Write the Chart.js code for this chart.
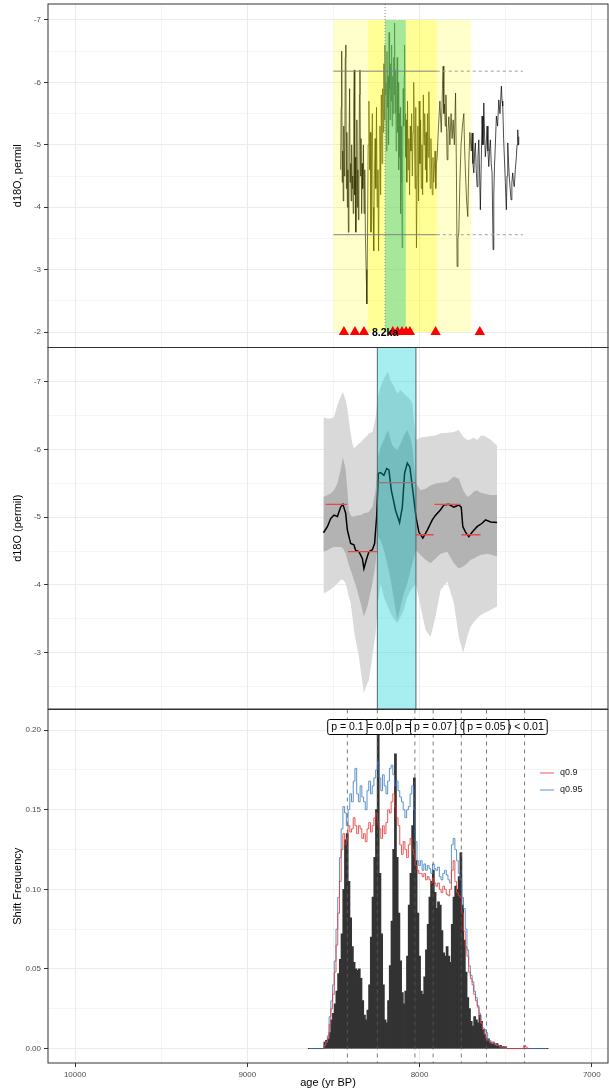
<!DOCTYPE html>
<html>
<head>
<meta charset="utf-8">
<script src="https://cdn.jsdelivr.net/npm/chart.js@4.4.1/dist/chart.umd.min.js"></script>
<style>
  body { margin: 0; background: #fff; }
  #wrap { position: relative; width: 609px; height: 1091px; }
  #wrap canvas { position: absolute; left: 0; top: 0; }
</style>
</head>
<body>
<div id="wrap">
  <canvas id="isoChart" width="609" height="1091"></canvas>
  <canvas id="ensChart" width="609" height="1091"></canvas>
  <canvas id="shiftChart" width="609" height="1091"></canvas>
</div>
<script>
// ---------- panel 1: raw d18O record ----------
const ageIso = [
  8458, 8455, 8452, 8449, 8446, 8443, 8440, 8437, 8434, 8431,
  8428, 8425, 8422, 8419, 8416, 8413, 8410, 8406, 8403, 8400,
  8397, 8394, 8391, 8388, 8385, 8382, 8379, 8376, 8373, 8370,
  8367, 8364, 8361, 8358, 8355, 8352, 8349, 8346, 8343, 8340,
  8336, 8333, 8330, 8326, 8322, 8318, 8314, 8310, 8306, 8302,
  8298, 8294, 8290, 8286, 8282, 8278, 8274, 8270, 8266, 8262,
  8258, 8254, 8250, 8246, 8242, 8238, 8234, 8230, 8226, 8222,
  8218, 8214, 8210, 8207, 8204, 8201, 8198, 8195, 8192, 8189,
  8186, 8183, 8180, 8177, 8174, 8171, 8168, 8165, 8162, 8159,
  8156, 8153, 8150, 8147, 8145, 8142, 8139, 8136, 8133, 8130,
  8127, 8124, 8121, 8118, 8115, 8112, 8110, 8107, 8104, 8101,
  8098, 8095, 8092, 8089, 8087, 8084, 8081, 8078, 8074, 8070,
  8066, 8062, 8058, 8054, 8050, 8046, 8042, 8038, 8034, 8030,
  8026, 8022, 8018, 8014, 8010, 8006, 8002, 7998, 7994, 7990,
  7986, 7982, 7978, 7974, 7970, 7966, 7962, 7958, 7954, 7950,
  7946, 7942, 7938, 7934, 7930, 7926, 7922, 7918, 7914, 7910,
  7906, 7902, 7898, 7890, 7882, 7874, 7867, 7863, 7859, 7855,
  7851, 7847, 7843, 7840, 7835, 7830, 7824, 7817, 7811, 7805,
  7798, 7791, 7786, 7782, 7777, 7772, 7766, 7759, 7751, 7743,
  7738, 7734, 7727, 7720, 7714, 7708, 7700, 7695, 7690, 7685,
  7680, 7676, 7671, 7666, 7661, 7656, 7651, 7647, 7642, 7637,
  7632, 7627, 7622, 7618, 7613, 7608, 7603, 7598, 7594, 7589,
  7584, 7579, 7573, 7569, 7565, 7560, 7554, 7547, 7540, 7533,
  7525, 7521, 7517, 7512, 7507, 7502, 7496, 7492, 7488, 7483,
  7478, 7474, 7469, 7464, 7459, 7455, 7450, 7444, 7438, 7434,
  7430, 7427, 7424
];
const d18oIso = [
  -4.6, -5.6, -6.5, -4.4, -4.9, -4.1, -5.3, -4.5, -4.8, -6.4,
  -6.6, -4.3, -5.2, -4.0, -4.6, -3.6, -4.9, -5.9, -4.4, -4.7,
  -4.1, -5.0, -4.3, -4.5, -3.9, -5.6, -6.2, -4.2, -4.8, -3.6,
  -4.4, -5.4, -4.0, -4.6, -3.8, -4.2, -5.8, -6.2, -4.5, -5.1,
  -3.9, -4.7, -4.3, -5.0, -3.9, -4.6, -3.5, -3.0, -2.45, -3.6,
  -5.0, -5.7, -4.6, -5.2, -3.6, -4.8, -5.5, -4.0, -3.3, -4.5,
  -5.1, -4.3, -5.6, -4.0, -4.6, -3.3, -4.6, -5.3, -4.2, -5.8,
  -4.7, -5.9, -5.2, -6.3, -5.4, -6.6, -5.8, -6.0, -4.9, -6.5,
  -5.6, -6.1, -5.0, -6.8, -5.9, -5.4, -6.3, -5.7, -6.6, -5.3,
  -6.1, -5.5, -6.4, -5.8, -6.95, -5.5, -6.2, -4.9, -5.8, -6.4,
  -5.2, -6.0, -4.6, -5.5, -4.8, -5.6, -3.9, -5.3, -4.4, -3.35,
  -4.8, -5.9, -5.3, -6.1, -6.6, -5.5, -4.8, -5.4, -4.4, -5.7,
  -4.6, -5.1, -4.2, -5.3, -4.9, -5.5, -4.5, -5.2, -6.0, -5.2,
  -4.3, -5.6, -3.35, -4.5, -5.3, -4.1, -5.7, -4.7, -5.4, -4.3,
  -5.0, -4.2, -5.8, -5.0, -5.5, -4.6, -5.2, -4.4, -5.5, -4.8,
  -5.85, -4.9, -4.3, -5.1, -4.6, -4.2, -4.8, -4.4, -4.6, -4.9,
  -4.3, -4.7, -4.8, -5.3, -5.7, -5.2, -5.9, -6.26, -5.5, -5.65,
  -5.3, -5.8, -5.2, -4.76, -5.2, -5.45, -5.0, -5.5, -5.1, -5.4,
  -5.0, -5.83, -4.6, -3.05, -3.5, -3.6, -4.4, -5.0, -5.3, -5.5,
  -4.9, -4.6, -4.1, -3.85, -4.7, -5.2, -4.9, -5.19, -4.7, -4.55,
  -4.9, -5.03, -4.6, -4.33, -4.8, -5.08, -4.5, -3.96, -4.7, -5.46,
  -5.0, -5.67, -5.1, -4.81, -5.0, -5.3, -4.9, -4.65, -4.9, -5.08,
  -4.7, -4.55, -3.32, -4.2, -4.65, -5.0, -5.46, -5.3, -5.72, -5.5,
  -5.94, -5.7, -5.62, -5.1, -4.76, -4.4, -3.96, -4.5, -5.03, -4.7,
  -4.44, -4.3, -4.12, -4.4, -4.55, -4.4, -4.33, -4.6, -4.81, -5.0,
  -5.24, -5.0, -5.13
];
// shaded event windows: outer, core, peak
const zoneFrom = [8500, 8300, 8200];
const zoneTo = [7700, 7900, 8080];
const zoneTop = -7;
const zoneBottom = -2;
// threshold levels, solid over the window and dashed after it
const refLevels = [-6.18, -3.56];
const refSolid = [8500, 7900];
const refDashed = [7900, 7400];
// detected shifts
const eventAges = [8439, 8375, 8323, 8155, 8128, 8102, 8078, 8056, 7907, 7650];
const eventLevel = -2;
const markAge = 8200;
const markLabel = '8.2ka';

// ---------- panel 2: ensemble envelope ----------
const envAge = [
  8558, 8535, 8516, 8497, 8477, 8458, 8445, 8429, 8419, 8410,
  8400, 8390, 8381, 8371, 8352, 8342, 8323, 8303, 8294, 8274,
  8255, 8242, 8226, 8207, 8184, 8168, 8158, 8129, 8110, 8091,
  8071, 8052, 8042, 8021, 7994, 7965, 7936, 7907, 7878, 7839,
  7801, 7772, 7747, 7723, 7704, 7685, 7666, 7646, 7627, 7608,
  7588, 7550
];
const outerHi = [
  -6.48, -6.46, -6.46, -6.48, -6.66, -6.78, -6.85, -6.73, -6.61, -6.43,
  -6.24, -6.09, -6.02, -6.04, -6.09, -6.11, -6.16, -6.21, -6.24, -6.26,
  -6.48, -6.78, -6.93, -7.05, -7.15, -7.02, -6.98, -6.83, -6.88, -6.83,
  -6.78, -6.73, -6.68, -6.14, -6.18, -6.19, -6.20, -6.21, -6.24, -6.25,
  -6.26, -6.29, -6.19, -6.14, -6.15, -6.18, -6.14, -6.20, -6.21, -6.18,
  -6.15, -6.06
];
const outerLo = [
  -3.87, -3.90, -3.93, -3.97, -4.02, -4.07, -4.08, -4.02, -3.92, -3.82,
  -3.73, -3.53, -3.33, -3.18, -2.94, -2.74, -2.40, -2.54, -2.59, -2.94,
  -3.28, -3.73, -4.02, -3.82, -3.68, -3.58, -3.53, -3.43, -3.53, -3.63,
  -3.82, -3.92, -3.95, -4.02, -3.68, -3.33, -3.23, -3.53, -3.92, -4.05,
  -3.73, -3.23, -2.99, -3.23, -3.38, -3.45, -3.50, -3.55, -3.58, -3.60,
  -3.63, -3.68
];
const innerHi = [
  -5.30, -5.33, -5.35, -5.40, -5.50, -5.70, -5.89, -5.70, -5.40, -5.10,
  -5.03, -5.01, -5.01, -5.02, -5.03, -5.03, -5.06, -5.07, -5.08, -5.15,
  -5.40, -5.89, -6.04, -6.14, -6.29, -6.14, -6.06, -5.99, -6.09, -6.21,
  -6.29, -6.16, -6.04, -5.50, -5.40, -5.42, -5.47, -5.50, -5.51, -5.52,
  -5.60, -5.57, -5.40, -5.30, -5.33, -5.38, -5.40, -5.36, -5.35, -5.34,
  -5.33, -5.33
];
const innerLo = [
  -4.49, -4.51, -4.54, -4.56, -4.56, -4.56, -4.54, -4.46, -4.37, -4.29,
  -4.22, -4.14, -4.07, -4.00, -3.82, -3.73, -3.53, -3.68, -3.78, -4.02,
  -4.32, -4.71, -4.66, -4.51, -4.27, -4.07, -3.92, -3.48, -3.68, -3.87,
  -4.02, -4.22, -4.32, -4.51, -4.44, -4.37, -4.32, -4.39, -4.46, -4.49,
  -4.32, -4.24, -4.27, -4.32, -4.37, -4.39, -4.42, -4.44, -4.45, -4.46,
  -4.45, -4.42
];
const medAge = [
  8558, 8535, 8516, 8497, 8477, 8458, 8445, 8429, 8419, 8400,
  8381, 8371, 8352, 8332, 8323, 8309, 8294, 8274, 8261, 8249,
  8239, 8226, 8207, 8191, 8178, 8164, 8139, 8116, 8100, 8087,
  8071, 8056, 8037, 8021, 8004, 7981, 7955, 7926, 7907, 7878,
  7859, 7830, 7801, 7772, 7758, 7749, 7733, 7714, 7694, 7666,
  7637, 7617, 7588, 7550
];
const medVal = [
  -4.77, -4.86, -4.98, -5.03, -5.01, -5.15, -5.19, -5.06, -4.81, -4.61,
  -4.59, -4.51, -4.49, -4.39, -4.24, -4.37, -4.49, -4.52, -4.61, -5.01,
  -5.65, -5.66, -5.62, -5.72, -5.70, -5.40, -5.10, -4.92, -5.15, -5.65,
  -5.80, -5.74, -5.35, -5.01, -4.78, -4.69, -4.81, -4.96, -5.03, -5.11,
  -5.18, -5.19, -5.15, -5.18, -5.15, -4.86, -4.78, -4.71, -4.78, -4.86,
  -4.91, -4.96, -4.93, -4.92
];
// segment means between change points
const segFrom = [8545, 8416, 8239, 8023, 7913, 7757];
const segTo = [8420, 8243, 8023, 7919, 7762, 7646];
const segVal = [-5.19, -4.49, -5.51, -4.74, -5.19, -4.74];
const shiftFrom = 8245;
const shiftTo = 8021;

// ---------- panel 3: shift frequency ----------
const binAge = [
  8640, 8630, 8620, 8610, 8600, 8590, 8580, 8570, 8560, 8550,
  8540, 8530, 8520, 8510, 8500, 8490, 8480, 8470, 8460, 8450,
  8440, 8430, 8420, 8410, 8400, 8390, 8380, 8370, 8360, 8350,
  8340, 8330, 8320, 8310, 8300, 8290, 8280, 8270, 8260, 8250,
  8240, 8230, 8220, 8210, 8200, 8190, 8180, 8170, 8160, 8150,
  8140, 8130, 8120, 8110, 8100, 8090, 8080, 8070, 8060, 8050,
  8040, 8030, 8020, 8010, 8000, 7990, 7980, 7970, 7960, 7950,
  7940, 7930, 7920, 7910, 7900, 7890, 7880, 7870, 7860, 7850,
  7840, 7830, 7820, 7810, 7800, 7790, 7780, 7770, 7760, 7750,
  7740, 7730, 7720, 7710, 7700, 7690, 7680, 7670, 7660, 7650,
  7640, 7630, 7620, 7610, 7600, 7590, 7580, 7570, 7560, 7550,
  7540, 7530, 7520, 7510, 7500, 7490, 7480, 7470, 7460, 7450,
  7440, 7430, 7420, 7410, 7400, 7390, 7380, 7370, 7360, 7350,
  7340, 7330, 7320, 7310, 7300, 7290, 7280, 7270, 7260
];
const histFreq = [
  0, 0, 0, 0, 0, 0, 0, 0, 0, 0.004,
  0.005, 0.006, 0.010, 0.018, 0.022, 0.028, 0.036, 0.047, 0.056, 0.072,
  0.100, 0.131, 0.135, 0.105, 0.082, 0.064, 0.054, 0.050, 0.049, 0.050,
  0.044, 0.030, 0.021, 0.018, 0.024, 0.040, 0.070, 0.095, 0.120, 0.150,
  0.197, 0.110, 0.072, 0.040, 0.018, 0.016, 0.030, 0.052, 0.080, 0.125,
  0.185, 0.120, 0.085, 0.055, 0.035, 0.028, 0.036, 0.058, 0.090, 0.110,
  0.140, 0.170, 0.118, 0.085, 0.058, 0.036, 0.034, 0.045, 0.062, 0.078,
  0.095, 0.105, 0.112, 0.098, 0.088, 0.092, 0.090, 0.074, 0.060, 0.058,
  0.064, 0.058, 0.054, 0.078, 0.095, 0.102, 0.100, 0.108, 0.123, 0.090,
  0.068, 0.048, 0.032, 0.025, 0.017, 0.014, 0.020, 0.018, 0.016, 0.021,
  0.017, 0.012, 0.009, 0.005, 0.006, 0.004, 0.003, 0.003, 0.002, 0.003,
  0.002, 0.002, 0.001, 0.001, 0.001, 0, 0, 0, 0, 0,
  0, 0, 0, 0, 0, 0, 0, 0, 0, 0,
  0, 0, 0, 0, 0, 0, 0, 0, 0
];
const q90 = [
  null, null, null, null, null, null, null, null, 0, 0.002,
  0.004, 0.006, 0.015, 0.025, 0.034, 0.048, 0.065, 0.085, 0.105, 0.125,
  0.135, 0.128, 0.132, 0.140, 0.136, 0.138, 0.145, 0.140, 0.135, 0.140,
  0.138, 0.132, 0.135, 0.130, 0.138, 0.142, 0.136, 0.140, 0.145, 0.148,
  0.142, 0.138, 0.132, 0.140, 0.135, 0.142, 0.150, 0.148, 0.155, 0.160,
  0.152, 0.145, 0.140, 0.128, 0.122, 0.130, 0.125, 0.120, 0.128, 0.132,
  0.125, 0.122, 0.115, 0.112, 0.110, 0.110, 0.108, 0.110, 0.106, 0.108,
  0.106, 0.104, 0.107, 0.104, 0.102, 0.104, 0.100, 0.098, 0.102, 0.100,
  0.097, 0.096, 0.100, 0.112, 0.118, 0.105, 0.098, 0.096, 0.095, 0.085,
  0.074, 0.064, 0.058, 0.048, 0.044, 0.040, 0.034, 0.030, 0.026, 0.020,
  0.016, 0.012, 0.009, 0.006, 0.005, 0.004, 0.003, 0.004, 0.003, 0.002,
  0.002, 0.001, 0.001, 0.001, 0.001, 0, 0, 0, 0, 0,
  0, 0, 0, 0, 0, 0.002, 0.001, 0, 0, null,
  null, null, null, null, null, null, null, null, null
];
const q95 = [
  0, 0, 0, 0, 0, 0, 0, 0, 0, 0.002,
  0.004, 0.008, 0.020, 0.030, 0.040, 0.055, 0.075, 0.095, 0.120, 0.138,
  0.152, 0.148, 0.140, 0.150, 0.160, 0.155, 0.168, 0.176, 0.160, 0.155,
  0.165, 0.158, 0.155, 0.150, 0.162, 0.168, 0.160, 0.165, 0.170, 0.175,
  0.180, 0.170, 0.162, 0.172, 0.165, 0.160, 0.168, 0.176, 0.178, 0.172,
  0.165, 0.168, 0.162, 0.158, 0.155, 0.150, 0.145, 0.150, 0.152, 0.160,
  0.165, 0.150, 0.130, 0.118, 0.115, 0.118, 0.112, 0.116, 0.112, 0.115,
  0.113, 0.110, 0.116, 0.113, 0.112, 0.114, 0.108, 0.106, 0.110, 0.112,
  0.109, 0.106, 0.104, 0.128, 0.132, 0.125, 0.118, 0.110, 0.106, 0.095,
  0.088, 0.075, 0.062, 0.052, 0.046, 0.042, 0.036, 0.032, 0.027, 0.022,
  0.016, 0.013, 0.012, 0.010, 0.006, 0.005, 0.004, 0.004, 0.003, 0.002,
  0.002, 0.001, 0.001, 0.001, 0.001, 0, 0, 0, 0, 0,
  0, 0, 0, 0, 0, 0, 0, 0, 0, 0,
  0, 0, 0, 0, 0, 0, 0, 0, 0
];
// change point ages with their p-values
const pAge = [8419, 8245, 8027, 7921, 7758, 7612, 7390];
const pText = ['p = 0.1', 'p = 0.01', 'p = 0.02', 'p = 0.07', 'p = 0.03', 'p = 0.05', 'p < 0.01'];
const pLevel = 0.202;

// ---------- axes ----------
const AGE_MIN = 6906;
const AGE_MAX = 10157;
const ageTicks = [10000, 9500, 9000, 8500, 8000, 7500, 7000];
const isoTicks = [-7, -6.5, -6, -5.5, -5, -4.5, -4, -3.5, -3, -2.5, -2];
const ensTicks = [-7, -6.5, -6, -5.5, -5, -4.5, -4, -3.5, -3, -2.5];
const freqTicks = [0, 0.025, 0.05, 0.075, 0.1, 0.125, 0.15, 0.175, 0.2];

Chart.defaults.font.family = '"Liberation Sans", Arial, sans-serif';
Chart.defaults.animation = false;
Chart.defaults.events = [];
Chart.defaults.plugins.legend.display = false;
Chart.defaults.plugins.tooltip.enabled = false;

const GRID = '#EBEBEB';
const TICK_TEXT = '#4D4D4D';

function ageScale(showLabels) {
  const major = v => v % 1000 === 0;
  return {
    type: 'linear',
    reverse: true,
    min: AGE_MIN,
    max: AGE_MAX,
    offset: false,
    afterBuildTicks: s => { s.ticks = ageTicks.map(v => ({ value: v })); },
    afterFit: s => {
      s.height = showLabels ? 28 : 0;
      s.paddingLeft = 0;
      s.paddingRight = 0;
    },
    border: { display: false },
    grid: {
      offset: false,
      color: GRID,
      lineWidth: c => (c.tick && major(c.tick.value) ? 1 : 0.5),
      drawTicks: showLabels,
      tickLength: 4,
      tickWidth: 1,
      tickColor: c => (c.tick && major(c.tick.value) ? '#333333' : 'rgba(0,0,0,0)')
    },
    ticks: {
      display: showLabels,
      autoSkip: false,
      maxRotation: 0,
      padding: 3,
      color: TICK_TEXT,
      font: { size: 8 },
      callback: v => (major(v) ? String(v) : '')
    },
    title: {
      display: showLabels,
      text: 'age (yr BP)',
      color: '#000',
      font: { size: 11 },
      padding: { top: 0, bottom: 1 }
    }
  };
}

function valueScale(min, max, tickVals, step, digits, reverse, label) {
  const major = v => Math.abs(v / step - Math.round(v / step)) < 1e-6;
  return {
    type: 'linear',
    reverse: reverse,
    min: min,
    max: max,
    afterBuildTicks: s => { s.ticks = tickVals.map(v => ({ value: v })); },
    afterFit: s => {
      s.width = 48;
      // panel edges are fixed by the layout padding, not by the tick labels
      s.paddingTop = 0;
      s.paddingBottom = 0;
    },
    border: { display: false },
    grid: {
      color: GRID,
      lineWidth: c => (c.tick && major(c.tick.value) ? 1 : 0.5),
      tickLength: 4,
      tickWidth: 1,
      tickColor: c => (c.tick && major(c.tick.value) ? '#333333' : 'rgba(0,0,0,0)')
    },
    ticks: {
      autoSkip: false,
      padding: 3,
      color: TICK_TEXT,
      font: { size: 8 },
      callback: v => (major(v) ? v.toFixed(digits) : '')
    },
    title: {
      display: true,
      text: label,
      color: '#000',
      font: { size: 11 },
      padding: { top: 11.7, bottom: 0 }
    }
  };
}

const toPoints = (xs, ys) => xs.map((x, i) => ({ x: x, y: ys[i] }));

// ---------- plugins ----------
const panelBox = {
  id: 'panelBox',
  afterDraw(chart) {
    const { ctx, chartArea: a } = chart;
    ctx.save();
    ctx.strokeStyle = '#333333';
    ctx.lineWidth = 1;
    ctx.strokeRect(a.left, a.top, a.right - a.left, a.bottom - a.top);
    ctx.restore();
  }
};

const zonesPlugin = {
  id: 'zones',
  // shade the windows right after the record itself is drawn
  afterDatasetDraw(chart, args) {
    if (args.index !== chart.data.datasets.length - 1) return;
    const { ctx, scales: { x, y } } = chart;
    const fills = ['rgba(255,255,0,0.2)', 'rgba(255,255,0,0.27)', 'rgba(30,198,160,0.4)'];
    const y0 = y.getPixelForValue(zoneTop);
    const y1 = y.getPixelForValue(zoneBottom);
    ctx.save();
    zoneFrom.forEach((from, i) => {
      const x0 = x.getPixelForValue(from);
      const x1 = x.getPixelForValue(zoneTo[i]);
      ctx.fillStyle = fills[i];
      ctx.fillRect(x0, y0, x1 - x0, y1 - y0);
    });
    ctx.restore();
  },
  afterDatasetsDraw(chart) {
    const { ctx, chartArea: a, scales: { x, y } } = chart;
    const px = x.getPixelForValue(markAge);
    const py = y.getPixelForValue(eventLevel);
    ctx.save();
    ctx.strokeStyle = '#8C8C8C';
    ctx.lineWidth = 1;
    ctx.setLineDash([1, 2]);
    ctx.beginPath();
    ctx.moveTo(px, a.top);
    ctx.lineTo(px, py);
    ctx.stroke();
    ctx.setLineDash([]);
    ctx.fillStyle = '#000';
    ctx.font = 'bold 10.5px "Liberation Sans", Arial, sans-serif';
    ctx.textAlign = 'center';
    ctx.textBaseline = 'middle';
    ctx.fillText(markLabel, px, py + 1.5);
    ctx.restore();
  }
};

const shiftBand = {
  id: 'shiftBand',
  afterDatasetsDraw(chart) {
    const { ctx, chartArea: a, scales: { x } } = chart;
    const x0 = x.getPixelForValue(shiftFrom);
    const x1 = x.getPixelForValue(shiftTo);
    ctx.save();
    ctx.fillStyle = 'rgba(0,206,209,0.35)';
    ctx.fillRect(x0, a.top, x1 - x0, a.bottom - a.top);
    ctx.strokeStyle = '#4F6B6C';
    ctx.lineWidth = 1;
    ctx.beginPath();
    ctx.moveTo(x0, a.top); ctx.lineTo(x0, a.bottom);
    ctx.moveTo(x1, a.top); ctx.lineTo(x1, a.bottom);
    ctx.stroke();
    ctx.restore();
  }
};

const pLabels = {
  id: 'pLabels',
  afterDatasetsDraw(chart) {
    const { ctx, chartArea: a, scales: { x, y } } = chart;
    ctx.save();
    ctx.strokeStyle = '#5A5A5A';
    ctx.lineWidth = 0.8;
    ctx.setLineDash([4, 4]);
    pAge.forEach(age => {
      const px = x.getPixelForValue(age);
      ctx.beginPath();
      ctx.moveTo(px, a.top);
      ctx.lineTo(px, a.bottom);
      ctx.stroke();
    });
    ctx.setLineDash([]);
    ctx.font = '10.5px "Liberation Sans", Arial, sans-serif';
    ctx.textAlign = 'center';
    ctx.textBaseline = 'middle';
    const cy = y.getPixelForValue(pLevel);
    // overlapping labels, stacked the same way each time
    [1, 4, 6, 2, 0, 3, 5].forEach(i => {
      const px = x.getPixelForValue(pAge[i]);
      const w = ctx.measureText(pText[i]).width + 7;
      const h = 15;
      ctx.beginPath();
      ctx.roundRect(px - w / 2, cy - h / 2, w, h, 2);
      ctx.fillStyle = '#fff';
      ctx.fill();
      ctx.strokeStyle = '#000';
      ctx.lineWidth = 1;
      ctx.stroke();
      ctx.fillStyle = '#000';
      ctx.fillText(pText[i], px, cy + 0.5);
    });
    ctx.restore();
  }
};

const stepLegend = {
  id: 'stepLegend',
  afterDraw(chart) {
    const { ctx, chartArea: a } = chart;
    const lines = chart.data.datasets.filter(d => d.type === 'line');
    ctx.save();
    ctx.font = '9px "Liberation Sans", Arial, sans-serif';
    ctx.textBaseline = 'middle';
    ctx.textAlign = 'left';
    lines.forEach((d, i) => {
      const ly = a.top + 63.5 + i * 17;
      const lx = a.right - 68;
      ctx.strokeStyle = d.borderColor;
      ctx.lineWidth = 1;
      ctx.beginPath();
      ctx.moveTo(lx, ly);
      ctx.lineTo(lx + 14, ly);
      ctx.stroke();
      ctx.fillStyle = '#1A1A1A';
      ctx.fillText(d.label, lx + 20, ly);
    });
    ctx.restore();
  }
};

// ---------- panel 1 ----------
const isoSets = [
  {
    label: 'events',
    data: eventAges.map(a => ({ x: a, y: eventLevel })),
    showLine: false,
    pointStyle: 'triangle',
    pointRadius: 6,
    pointBackgroundColor: '#FF0000',
    pointBorderWidth: 0
  }
];
refLevels.forEach(level => {
  isoSets.push({
    data: [{ x: refSolid[0], y: level }, { x: refSolid[1], y: level }],
    borderColor: '#808080', borderWidth: 1, pointRadius: 0
  });
  isoSets.push({
    data: [{ x: refDashed[0], y: level }, { x: refDashed[1], y: level }],
    borderColor: '#9E9E9E', borderWidth: 1, borderDash: [3, 3], pointRadius: 0
  });
});
isoSets.push({
  label: 'd18O',
  data: toPoints(ageIso, d18oIso),
  borderColor: '#000000',
  borderWidth: 0.7,
  pointRadius: 0
});

new Chart(document.getElementById('isoChart'), {
  type: 'line',
  data: { datasets: isoSets },
  options: {
    responsive: false,
    layout: { autoPadding: false, padding: { top: 4, right: 1, bottom: 743.5, left: 0 } },
    scales: {
      x: ageScale(false),
      y: valueScale(-7.256, -1.753, isoTicks, 1, 0, true, 'd18O, permil')
    }
  },
  plugins: [zonesPlugin, panelBox]
});

// ---------- panel 2 ----------
const ensSets = segVal.map((v, i) => ({
  data: [{ x: segFrom[i], y: v }, { x: segTo[i], y: v }],
  borderColor: '#E8474A', borderWidth: 1.3, pointRadius: 0
}));
ensSets.push(
  { label: 'median', data: toPoints(medAge, medVal), borderColor: '#000', borderWidth: 1.5, pointRadius: 0 },
  { data: toPoints(envAge, innerHi), fill: '+1', backgroundColor: '#B3B3B3', borderWidth: 0, pointRadius: 0 },
  { data: toPoints(envAge, innerLo), fill: false, borderWidth: 0, pointRadius: 0 },
  { data: toPoints(envAge, outerHi), fill: '+1', backgroundColor: '#D9D9D9', borderWidth: 0, pointRadius: 0 },
  { data: toPoints(envAge, outerLo), fill: false, borderWidth: 0, pointRadius: 0 }
);

new Chart(document.getElementById('ensChart'), {
  type: 'line',
  data: { datasets: ensSets },
  options: {
    responsive: false,
    layout: { autoPadding: false, padding: { top: 347.5, right: 1, bottom: 382, left: 0 } },
    scales: {
      x: ageScale(false),
      y: valueScale(-7.51, -2.163, ensTicks, 1, 0, true, 'd18O (permil)')
    }
  },
  plugins: [shiftBand, panelBox]
});

// ---------- panel 3 ----------
new Chart(document.getElementById('shiftChart'), {
  type: 'bar',
  data: {
    datasets: [
      {
        type: 'line', label: 'q0.9', data: toPoints(binAge, q90),
        borderColor: 'rgba(232,58,58,0.85)', borderWidth: 1, pointRadius: 0,
        stepped: 'middle', spanGaps: false
      },
      {
        type: 'line', label: 'q0.95', data: toPoints(binAge, q95),
        borderColor: 'rgba(62,128,196,0.85)', borderWidth: 1, pointRadius: 0,
        stepped: 'middle'
      },
      {
        type: 'bar', label: 'frequency', data: toPoints(binAge, histFreq),
        backgroundColor: '#333333', borderWidth: 0, inflateAmount: 0.5,
        barPercentage: 1, categoryPercentage: 1
      }
    ]
  },
  options: {
    responsive: false,
    layout: { autoPadding: false, padding: { top: 709.5, right: 1, bottom: 0, left: 0 } },
    scales: {
      x: ageScale(true),
      y: valueScale(-0.00906, 0.213, freqTicks, 0.05, 2, false, 'Shift Frequency')
    }
  },
  plugins: [pLabels, stepLegend, panelBox]
});
</script>
</body>
</html>
